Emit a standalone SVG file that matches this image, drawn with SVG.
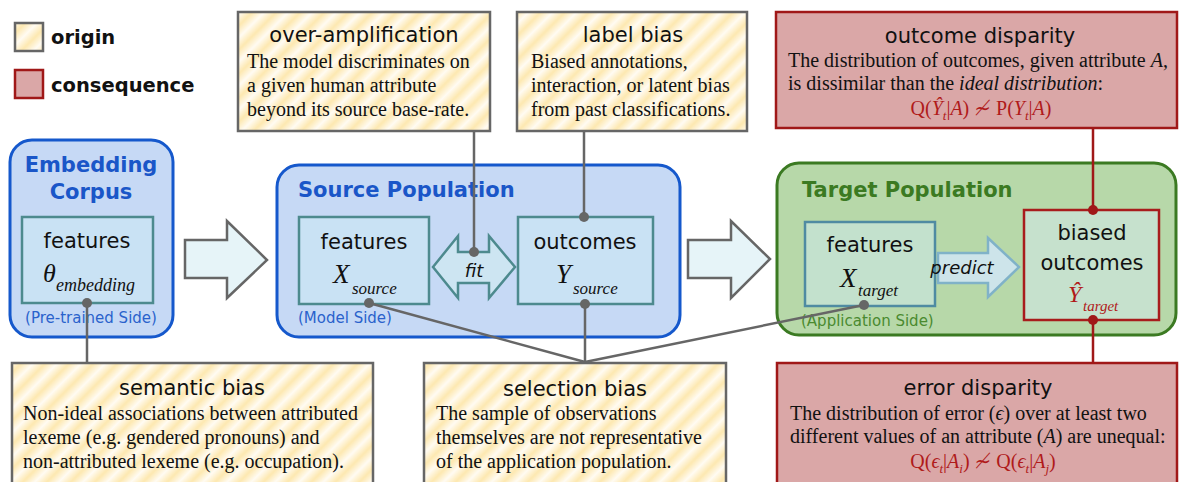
<svg xmlns="http://www.w3.org/2000/svg" width="1180" height="482" viewBox="0 0 1180 482">
<defs>
<linearGradient id="stripeGrad" x1="0" y1="0" x2="1" y2="0">
<stop offset="0" stop-color="#fde8b0"/>
<stop offset="0.5" stop-color="#fffbf2"/>
<stop offset="1" stop-color="#fde8b0"/>
</linearGradient>
<pattern id="hatch" patternUnits="userSpaceOnUse" width="17" height="17" patternTransform="rotate(45)">
<rect x="0" y="0" width="17" height="17" fill="url(#stripeGrad)"/>
</pattern>
<style>
.origin{fill:url(#hatch);stroke:#666;stroke-width:2.5}
.conseq{fill:#daa7a7;stroke:#a01818;stroke-width:2.5}
.blueC{fill:#c6d9f5;stroke:#1558cc;stroke-width:3}
.greenC{fill:#b7d8a9;stroke:#3b7a22;stroke-width:3}
.inner{fill:#c9e2f4;stroke:#4d8a8e;stroke-width:2.5}
.innerG{fill:#c3e1cd;stroke:#4f8ba2;stroke-width:2.5}
.innerR{fill:#c6e1cd;stroke:#a81c1c;stroke-width:2.5}
.bigArrow{fill:#e6f4f8;stroke:#666;stroke-width:2.5}
.fitArrow{fill:#cde5f2;stroke:#4d8a8e;stroke-width:2.5}
.predArrow{fill:#cde4ea;stroke:#80b2c8;stroke-width:2.5}
.h{font-family:"DejaVu Sans",Verdana,sans-serif;font-size:21px;fill:#111;text-anchor:middle}
.hb{font-family:"DejaVu Sans",Verdana,sans-serif;font-size:21px;font-weight:bold}
.body{font-family:"Liberation Serif","Times New Roman",serif;font-size:20px;fill:#111}
.body2{font-family:"Liberation Serif","Times New Roman",serif;font-size:20px;fill:#111}
.formula{font-family:"Liberation Serif","DejaVu Serif",serif;font-size:20px;fill:#b01a1a;text-anchor:middle}
.math{font-family:"Liberation Serif","Times New Roman",serif;font-style:italic;fill:#111}
.mathR{font-family:"Liberation Serif","Times New Roman",serif;font-style:italic;fill:#b01a1a}
.side{font-family:"DejaVu Sans",Verdana,sans-serif;font-size:15px}
.op{font-family:"DejaVu Sans",Verdana,sans-serif;font-style:italic;font-size:18px;fill:#111;text-anchor:middle}
.gl{fill:none;stroke:#666;stroke-width:2.5}
.rl{fill:none;stroke:#a01818;stroke-width:2.5}
.gd{fill:#666}
.rd{fill:#a01818}
</style>
</defs>

<g id="legend">
<rect x="15" y="23" width="28" height="28" class="origin"/>
<text x="51" y="44" font-family="DejaVu Sans,Verdana,sans-serif" font-weight="bold" font-size="19.5" fill="#111">origin</text>
<rect x="15" y="70" width="28" height="28" class="conseq"/>
<text x="51" y="92" font-family="DejaVu Sans,Verdana,sans-serif" font-weight="bold" font-size="19.5" fill="#111">consequence</text>
</g>

<g id="embedding-corpus">
<rect x="10" y="140" width="163" height="197" rx="22" class="blueC"/>
<text x="91" y="172" class="hb" fill="#1a56c8" text-anchor="middle">Embedding</text>
<text x="91" y="199" class="hb" fill="#1a56c8" text-anchor="middle">Corpus</text>
<rect x="22" y="217" width="131" height="86" class="inner"/>
<text x="87" y="248" class="h">features</text>
<text x="43" y="282" class="math" font-size="26">θ</text>
<text x="56" y="291" class="math" font-size="18">embedding</text>
<text x="91" y="323" class="side" fill="#2a62cc" text-anchor="middle">(Pre-trained Side)</text>
</g>

<g id="source-population">
<rect x="277" y="165" width="403" height="172" rx="22" class="blueC"/>
<text x="298" y="197" class="hb" fill="#1a56c8">Source Population</text>
<rect x="299" y="217" width="130" height="87" class="inner"/>
<text x="364" y="249" class="h">features</text>
<text x="333" y="283" class="math" font-size="27">X</text>
<text x="352" y="294" class="math" font-size="17">source</text>
<rect x="518" y="217" width="135" height="87" class="inner"/>
<text x="585" y="249" class="h">outcomes</text>
<text x="556" y="283" class="math" font-size="27">Y</text>
<text x="573" y="294" class="math" font-size="17">source</text>
<text x="298" y="323" class="side" fill="#2a62cc">(Model Side)</text>
</g>

<g id="target-population">
<rect x="777" y="163" width="399" height="172" rx="22" class="greenC"/>
<text x="802" y="197" class="hb" fill="#3b7a22">Target Population</text>
<rect x="805" y="222" width="130" height="84" class="innerG"/>
<text x="870" y="252" class="h">features</text>
<text x="840" y="287" class="math" font-size="27">X</text>
<text x="858" y="296" class="math" font-size="17">target</text>
<text x="801" y="326" class="side" fill="#4a8a30">(Application Side)</text>
<rect x="1024" y="210" width="135" height="110" class="innerR"/>
<text x="1092" y="240" class="h">biased</text>
<text x="1092" y="270" class="h">outcomes</text>
<text x="1068" y="302" class="mathR" font-size="24">Ŷ</text>
<text x="1083" y="311" class="mathR" font-size="15">target</text>
</g>

<g id="flow-arrows">
<polygon class="bigArrow" points="185,240 227,240 227,221 267,260 227,298 227,278 185,278"/>
<polygon class="bigArrow" points="688,240 731,240 731,221 770,259 731,298 731,278 688,278"/>
</g>

<g id="fit">
<polygon class="fitArrow" points="433,267 458,236 458,252 489,252 489,236 515,267 489,298 489,283 458,283 458,298"/>
<text x="474" y="277" class="op" font-size="20">fit</text>
</g>

<g id="predict">
<polygon class="predArrow" points="938,253 988,253 988,238 1019,267 988,297 988,283 938,283"/>
<text x="962" y="274" class="op" font-size="17">predict</text>
</g>

<g id="over-amplification">
<rect x="238" y="12" width="252" height="119" class="origin"/>
<text x="364" y="42" class="h">over-amplification</text>
<text x="247" y="68" class="body">The model discriminates on</text>
<text x="247" y="92" class="body">a given human attribute</text>
<text x="247" y="116" class="body">beyond its source base-rate.</text>
</g>

<g id="label-bias">
<rect x="517" y="12" width="230" height="119" class="origin"/>
<text x="633" y="42" class="h">label bias</text>
<text x="531" y="68" class="body">Biased annotations,</text>
<text x="531" y="92" class="body">interaction, or latent bias</text>
<text x="531" y="116" class="body">from past classifications.</text>
</g>

<g id="outcome-disparity">
<rect x="776" y="12" width="401" height="116" class="conseq"/>
<text x="980" y="43" class="h">outcome disparity</text>
<text x="788" y="67" class="body2">The distribution of outcomes, given attribute <tspan font-style="italic">A</tspan>,</text>
<text x="788" y="90" class="body2">is dissimilar than the <tspan font-style="italic">ideal distribution</tspan>:</text>
<text x="981" y="115" class="formula">Q(<tspan font-style="italic">Ŷ</tspan><tspan dy="5" font-size="13" font-style="italic">t</tspan><tspan dy="-5">|</tspan><tspan font-style="italic">A</tspan>) ≁ P(<tspan font-style="italic">Y</tspan><tspan dy="5" font-size="13" font-style="italic">t</tspan><tspan dy="-5">|</tspan><tspan font-style="italic">A</tspan>)</text>
</g>

<g id="semantic-bias">
<rect x="12" y="363" width="361" height="130" class="origin"/>
<text x="192" y="395" class="h">semantic bias</text>
<text x="23" y="420" class="body">Non-ideal associations between attributed</text>
<text x="23" y="444" class="body">lexeme (e.g. gendered pronouns) and</text>
<text x="23" y="468" class="body">non-attributed lexeme (e.g. occupation).</text>
</g>

<g id="selection-bias">
<rect x="424" y="363" width="302" height="130" class="origin"/>
<text x="575" y="396" class="h">selection bias</text>
<text x="436" y="420" class="body">The sample of observations</text>
<text x="436" y="444" class="body">themselves are not representative</text>
<text x="436" y="468" class="body">of the application population.</text>
</g>

<g id="error-disparity">
<rect x="777" y="363" width="400" height="130" class="conseq"/>
<text x="978" y="395" class="h">error disparity</text>
<text x="790" y="420" class="body2">The distribution of error (<tspan font-style="italic">ϵ</tspan>) over at least two</text>
<text x="790" y="443" class="body2">different values of an attribute (<tspan font-style="italic">A</tspan>) are unequal:</text>
<text x="983" y="468" class="formula">Q(<tspan font-style="italic">ϵ</tspan><tspan dy="5" font-size="13" font-style="italic">t</tspan><tspan dy="-5">|</tspan><tspan font-style="italic">A</tspan><tspan dy="5" font-size="13" font-style="italic">i</tspan><tspan dy="-5">) ≁ Q(</tspan><tspan font-style="italic">ϵ</tspan><tspan dy="5" font-size="13" font-style="italic">t</tspan><tspan dy="-5">|</tspan><tspan font-style="italic">A</tspan><tspan dy="5" font-size="13" font-style="italic">j</tspan><tspan dy="-5">)</tspan></text>
</g>

<g id="connectors">
<line class="gl" x1="87" y1="303" x2="87" y2="363"/>
<circle class="gd" cx="87" cy="303" r="5"/>
<line class="gl" x1="474" y1="131" x2="474" y2="252"/>
<circle class="gd" cx="474" cy="252" r="5"/>
<line class="gl" x1="584" y1="131" x2="584" y2="217"/>
<circle class="gd" cx="584" cy="217" r="5"/>
<line class="gl" x1="369" y1="303" x2="585" y2="362"/>
<circle class="gd" cx="369" cy="303" r="5"/>
<line class="gl" x1="585" y1="304" x2="585" y2="362"/>
<circle class="gd" cx="585" cy="304" r="5"/>
<line class="gl" x1="864" y1="305" x2="585" y2="362"/>
<circle class="gd" cx="864" cy="305" r="5"/>
<line class="rl" x1="1093" y1="128" x2="1093" y2="210"/>
<circle class="rd" cx="1093" cy="210" r="5"/>
<line class="rl" x1="1093" y1="320" x2="1093" y2="363"/>
<circle class="rd" cx="1093" cy="320" r="5"/>
</g>
</svg>
